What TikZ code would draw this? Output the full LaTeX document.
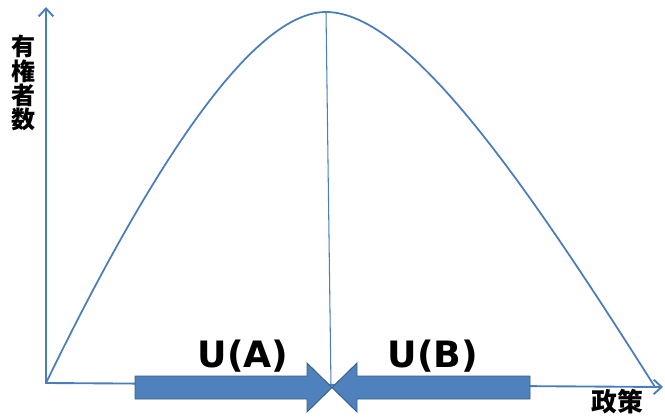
\documentclass[tikz,border=0pt]{standalone}
\usepackage{fontspec}
\setsansfont{DejaVu Sans}
\newfontfamily\jpfont{Noto Sans CJK JP}
\usetikzlibrary{arrows.meta}
\definecolor{axisCol}{HTML}{4A7EBB}
\definecolor{arrowFill}{HTML}{4F81BD}
\definecolor{arrowDraw}{HTML}{385D8A}

\begin{document}
\begin{tikzpicture}[
  x=0.03cm, y=-0.03cm,
  axis/.style={line width=1.6pt, draw=axisCol, line join=miter,
               {Straight Barb[length=2.4mm,width=4.4mm]}-{Straight Barb[length=2.4mm,width=4.4mm]}},
  curve/.style={line width=1.5pt, draw=axisCol},
  midline/.style={line width=0.9pt, draw=axisCol},
  blockarrow/.style={fill=arrowFill, draw=arrowDraw, line width=0.8pt, line join=miter},
  ulabel/.style={font=\sffamily\bfseries\fontsize{31}{31}\selectfont, inner sep=0pt},
  jplabel/.style={font=\jpfont\bfseries\fontsize{20.5}{19.2}\selectfont, align=center, inner sep=0pt},
]
\useasboundingbox (0,0) rectangle (665,417);

% ---- Ejes ----
\coordinate (O)    at (46,383);
\coordinate (yend) at (46,7);
\coordinate (xend) at (663,387);
\draw[axis] (yend) -- (O) -- (xend);

% ---- Curva de votantes ----
\coordinate (peak)  at (326,12);
\coordinate (rend)  at (655,387);
\coordinate (foot)  at (331,386);
\draw[curve] (O) .. controls (135,200) and (245,12) .. (peak)
             .. controls (410,12) and (530,190) .. (rend);
\draw[midline] (peak) -- (foot);

% ---- Flechas de bloque ----
\coordinate (tipA) at (332,387.5);
\coordinate (tipB) at (332,387.5);
\filldraw[blockarrow] (tipA) -- ++(-25,-24.5) -- ++(0,13) -- ++(-172,0) -- ++(0,23)
                      -- ++(172,0) -- ++(0,13) -- cycle;
\filldraw[blockarrow] (tipB) -- ++(25,-24.5) -- ++(0,13) -- ++(173,0) -- ++(0,23)
                      -- ++(-173,0) -- ++(0,13) -- cycle;

% ---- Etiquetas ----
\node[ulabel] (ua) at (243,356) {U(A)};
\node[ulabel] (ub) at (433,356) {U(B)};
\node[jplabel] (ylab) at (23.5,83) {有\\権\\者\\数};
\node[jplabel, font=\jpfont\bfseries\fontsize{22}{22}\selectfont] (xlab) at (617,402) {政策};

\end{tikzpicture}
\end{document}
